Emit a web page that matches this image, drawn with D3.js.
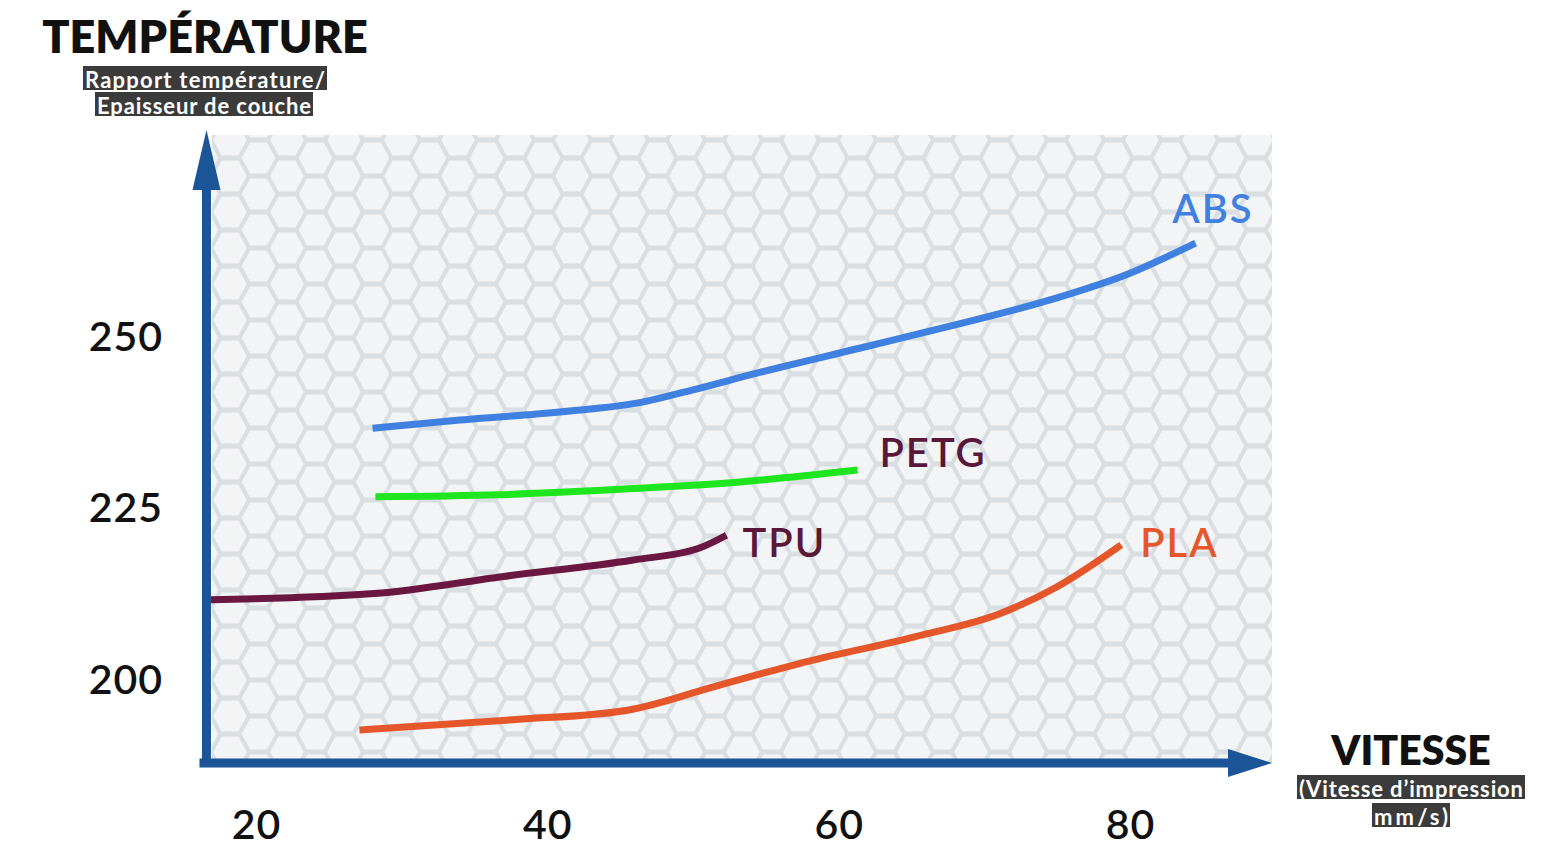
<!DOCTYPE html>
<html>
<head>
<meta charset="utf-8">
<script src="https://cdn.jsdelivr.net/npm/d3@7"></script>
<style>
  body { margin: 0; background: #ffffff; }
  svg { display: block; font-family: "Lato", "Open Sans", sans-serif; }
</style>
</head>
<body>
<div id="chartArea"></div>
<script>
// data
var speedTicks = [20, 40, 60, 80];
var tempTicks = [200, 225, 250];

var absSpeed = [28, 34, 41, 46.5, 50, 54.5, 61.5, 67.5, 74.5, 80, 84.5];
var absTemp  = [236.7, 237.9, 239.1, 240.5, 242.3, 244.8, 248.4, 251.5, 255.4, 259.3, 263.7];

var petgSpeed = [28.2, 36.6, 45.9, 53.4, 61.3];
var petgTemp  = [226.7, 227.0, 227.9, 228.9, 230.6];

var tpuSpeed = [16.9, 28.1, 37.0, 45.9, 50.4, 52.3];
var tpuTemp  = [211.7, 212.6, 215.1, 217.5, 219.2, 221.1];

var plaSpeed = [27.1, 37.6, 45.5, 51.4, 57.3, 65.2, 71.1, 75.0, 79.4];
var plaTemp  = [192.7, 194.2, 195.6, 199.0, 202.4, 206.3, 209.7, 213.6, 219.7];

var materials = ["ABS", "PETG", "TPU", "PLA"];

var width = 1560, height = 848;
var axisBlue = "#1b5597";

var svg = d3.select("#chartArea")
    .append("svg")
    .attr("width", width)
    .attr("height", height);

var x = d3.scaleLinear().domain([20, 80]).range([256, 1130]);
var y = d3.scaleLinear().domain([200, 250]).range([680, 337]);

var x0 = x(16.6);   // y axis position
var y0 = y(187.9);  // x axis position

// hexagon background (flat-top cells)
var defs = svg.append("defs");
var pat = defs.append("pattern")
    .attr("id", "hex")
    .attr("patternUnits", "userSpaceOnUse")
    .attr("width", 57)
    .attr("height", 36)
    .attr("x", 230)
    .attr("y", 140);

pat.append("rect").attr("width", 57).attr("height", 36).attr("fill", "#d9dee2");

function hexPoints(cx, cy) {
    var r = 16.8, h = 15.6;
    return [[cx - r, cy], [cx - r / 2, cy - h], [cx + r / 2, cy - h],
            [cx + r, cy], [cx + r / 2, cy + h], [cx - r / 2, cy + h]]
        .map(function(p){ return p.join(","); }).join(" ");
}
[[0, 0], [57, 0], [28.5, 18], [0, 36], [57, 36]].forEach(function(c){
    pat.append("polygon").attr("points", hexPoints(c[0], c[1])).attr("fill", "#f3f4f6");
});

svg.append("rect")
    .attr("x", 212)
    .attr("y", 135)
    .attr("width", 1060)
    .attr("height", y0 - 135)
    .attr("fill", "url(#hex)");

// lines
var series = [
    { name: "ABS",  xs: absSpeed,  ys: absTemp,  color: "#3f80e0" },
    { name: "PETG", xs: petgSpeed, ys: petgTemp, color: "#1ee61e" },
    { name: "TPU",  xs: tpuSpeed,  ys: tpuTemp,  color: "#6a1842" },
    { name: "PLA",  xs: plaSpeed,  ys: plaTemp,  color: "#e5572a" }
];

var line = d3.line()
    .x(function(d){ return x(d[0]); })
    .y(function(d){ return y(d[1]); })
    .curve(d3.curveMonotoneX);

svg.selectAll(".serie")
    .data(series)
    .enter().append("path")
    .attr("class", "serie")
    .attr("d", function(s){ return line(d3.zip(s.xs, s.ys)); })
    .attr("fill", "none")
    .attr("stroke", function(s){ return s.color; })
    .attr("stroke-width", 7);

// series labels, placed next to the end of each line
var labelColors = { ABS: "#3f80e0", PETG: "#5a1838", TPU: "#5a1838", PLA: "#e5572a" };
var labelPos = {
    ABS:  [absSpeed[absSpeed.length - 1] - 1.6, absTemp[absTemp.length - 1] + 2.9],
    PETG: [petgSpeed[petgSpeed.length - 1] + 1.5, petgTemp[petgTemp.length - 1] + 0.45],
    TPU:  [tpuSpeed[tpuSpeed.length - 1] + 1.1, tpuTemp[tpuTemp.length - 1] - 3.2],
    PLA:  [plaSpeed[plaSpeed.length - 1] + 1.3, plaTemp[plaTemp.length - 1] - 1.8]
};
svg.selectAll(".serieName")
    .data(materials)
    .enter().append("text")
    .attr("class", "serieName")
    .attr("x", function(d){ return x(labelPos[d][0]); })
    .attr("y", function(d){ return y(labelPos[d][1]); })
    .attr("font-size", 40)
    .attr("font-weight", 600)
    .attr("letter-spacing", 2)
    .attr("fill", function(d){ return labelColors[d]; })
    .text(function(d){ return d; });

// axes with arrows
svg.append("line")
    .attr("x1", x0).attr("y1", y0 + 4)
    .attr("x2", x0).attr("y2", 185)
    .attr("stroke", axisBlue).attr("stroke-width", 9);
svg.append("polygon")
    .attr("points", [[x0, 130], [x0 + 14, 190], [x0 - 14, 190]].join(" "))
    .attr("fill", axisBlue);

svg.append("line")
    .attr("x1", x0 - 7).attr("y1", y0)
    .attr("x2", 1232).attr("y2", y0)
    .attr("stroke", axisBlue).attr("stroke-width", 9);
svg.append("polygon")
    .attr("points", [[1272, y0], [1228, y0 - 14], [1228, y0 + 14]].join(" "))
    .attr("fill", axisBlue);

// tick labels
var xAxis = svg.append("g")
    .attr("transform", "translate(0," + (y0 + 47) + ")")
    .call(d3.axisBottom(x).tickValues(speedTicks).tickSize(0).tickPadding(0));
xAxis.select(".domain").remove();
xAxis.selectAll("text")
    .attr("font-family", "Lato, sans-serif")
    .attr("font-size", 41)
    .attr("font-weight", 600)
    .attr("letter-spacing", 1)
    .attr("fill", "#111");

var yAxis = svg.append("g")
    .attr("transform", "translate(163,0)")
    .call(d3.axisLeft(y).tickValues(tempTicks).tickSize(0).tickPadding(0));
yAxis.select(".domain").remove();
yAxis.selectAll("text")
    .attr("font-family", "Lato, sans-serif")
    .attr("font-size", 41)
    .attr("font-weight", 600)
    .attr("letter-spacing", 1)
    .attr("fill", "#111");

// axis titles
svg.append("text")
    .attr("x", 205).attr("y", 53)
    .attr("text-anchor", "middle")
    .attr("font-size", 45)
    .attr("font-weight", 800)
    .attr("fill", "#111")
    .text("TEMPÉRATURE");

svg.append("text")
    .attr("x", 1411).attr("y", 765)
    .attr("text-anchor", "middle")
    .attr("font-size", 41)
    .attr("font-weight", 800)
    .attr("fill", "#111")
    .text("VITESSE");

function tag(x1, x2, cy, txt) {
    svg.append("rect")
        .attr("x", x1).attr("y", cy - 12)
        .attr("width", x2 - x1).attr("height", 24)
        .attr("fill", "#3b3b3b");
    svg.append("text")
        .attr("x", x1 + 2).attr("y", cy + 1)
        .attr("dominant-baseline", "central")
        .attr("font-size", 22)
        .attr("font-weight", 700)
        .attr("fill", "#ffffff")
        .attr("textLength", x2 - x1 - 4)
        .attr("lengthAdjust", "spacing")
        .text(txt);
}
tag(83, 327, 78, "Rapport température/");
tag(95, 313, 104, "Epaisseur de couche");
tag(1297, 1525, 787, "(Vitesse d’impression");
tag(1372, 1450, 815, "mm/s)");
</script>
</body>
</html>
